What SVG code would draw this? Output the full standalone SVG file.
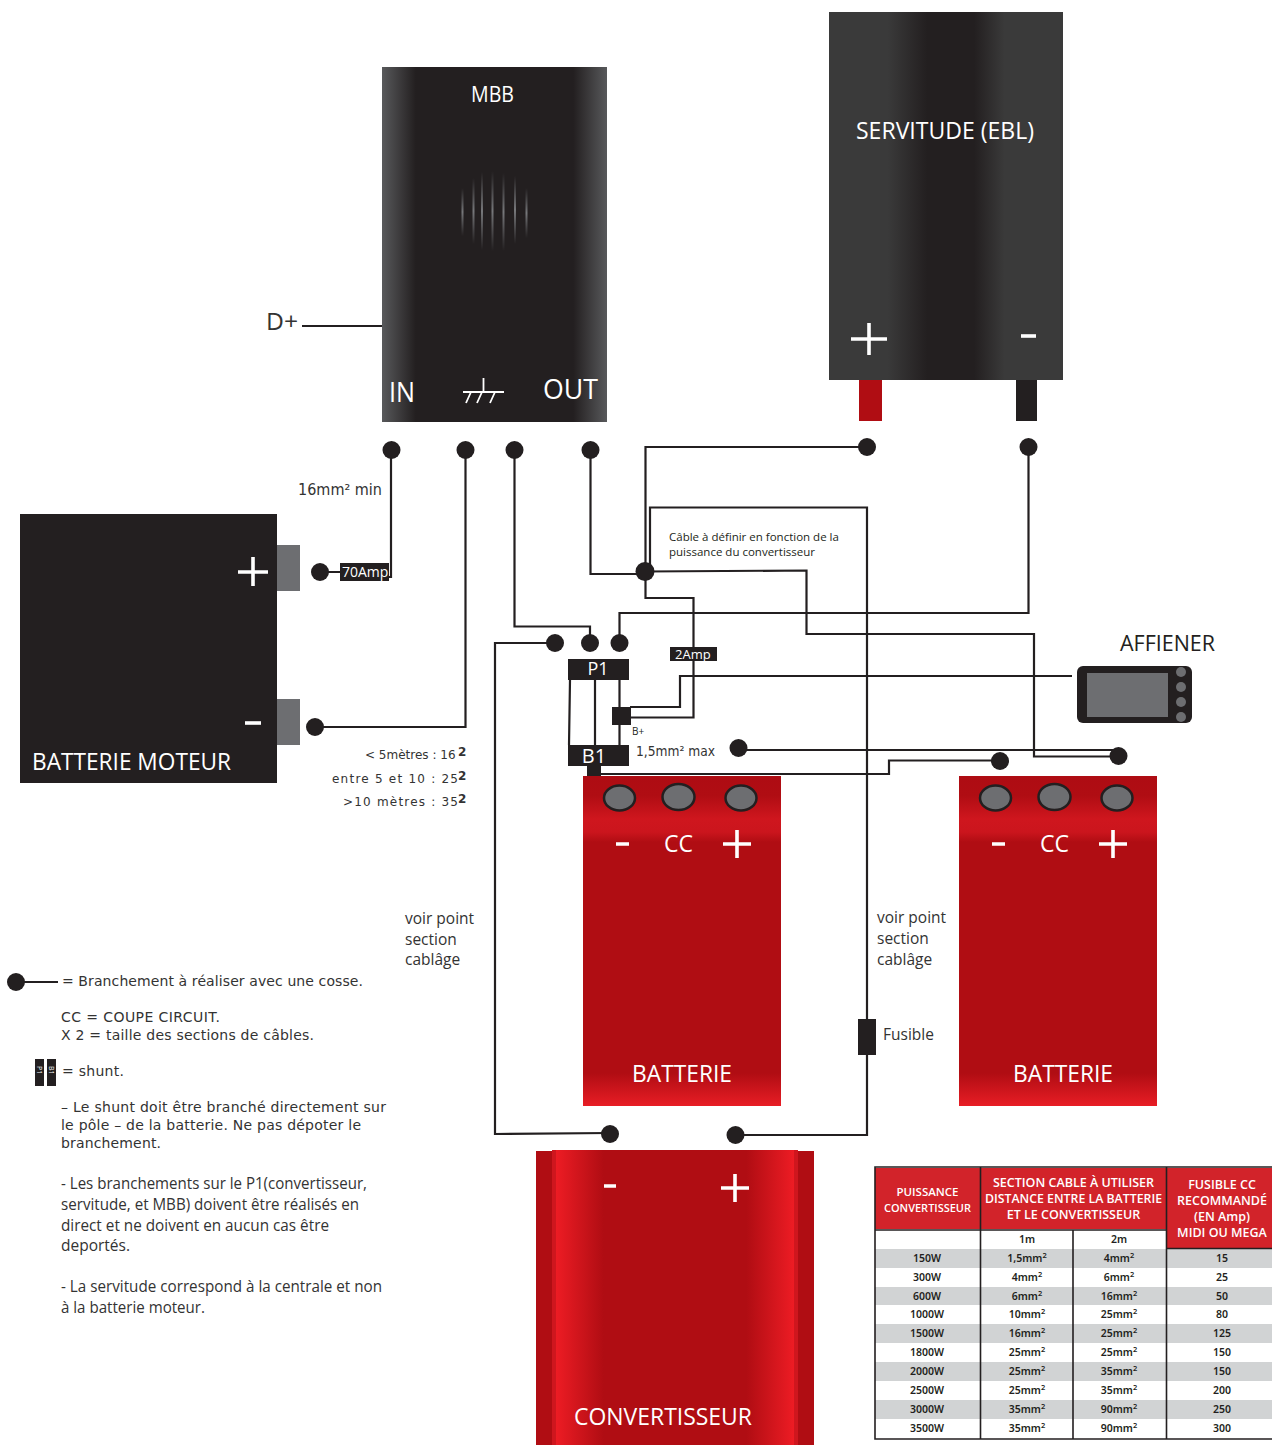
<svg xmlns="http://www.w3.org/2000/svg" width="1272" height="1445" viewBox="0 0 1272 1445">
<style>
text{font-family:"Open Sans","Noto Sans",sans-serif;fill:#231f20}
.b{font-size:24px;fill:#fff}
.d{font-family:"DejaVu Sans",sans-serif;font-size:14px;fill:#333}
.m{font-size:15.5px;fill:#333}
.wire{fill:none;stroke:#231f20;stroke-width:2.2;stroke-linejoin:miter}
.dot{fill:#231f20}
.sym{stroke:#fff;stroke-width:3.6;fill:none}
.post{fill:#6d6e71;stroke:#231f20;stroke-width:2.5}
.tbh{font-size:11.5px;font-weight:600;fill:#fff;text-anchor:middle}
.tb{font-size:10.5px;font-weight:600;fill:#231f20;text-anchor:middle;font-family:"Noto Sans",sans-serif}
.sup{font-size:7.5px}
.gl{stroke:#231f20;stroke-width:1.6;fill:none}
.blk{fill:#231f20}
</style>
<defs>
<linearGradient id="mbb" x1="0" y1="0" x2="1" y2="0"><stop offset="0" stop-color="#58595b"/><stop offset=".15" stop-color="#231f20"/><stop offset=".85" stop-color="#231f20"/><stop offset="1" stop-color="#58595b"/></linearGradient>
<linearGradient id="ebl" x1="0" y1="0" x2="1" y2="0"><stop offset="0" stop-color="#3a3a3a"/><stop offset=".25" stop-color="#3a3a3a"/><stop offset=".42" stop-color="#231f20"/><stop offset=".62" stop-color="#231f20"/><stop offset=".75" stop-color="#3a3a3a"/><stop offset="1" stop-color="#3a3a3a"/></linearGradient>
<linearGradient id="bat" x1="0" y1="0" x2="0" y2="1"><stop offset="0" stop-color="#ae0c13"/><stop offset=".06" stop-color="#b00d13"/><stop offset=".13" stop-color="#cf161e"/><stop offset=".17" stop-color="#cb151d"/><stop offset=".2" stop-color="#b00d13"/><stop offset=".9" stop-color="#b00d13"/><stop offset="1" stop-color="#e81d25"/></linearGradient>
<linearGradient id="conv" x1="0" y1="0" x2="1" y2="0"><stop offset="0" stop-color="#ed1c24"/><stop offset=".2" stop-color="#b00d13"/><stop offset=".8" stop-color="#b00d13"/><stop offset="1" stop-color="#ed1c24"/></linearGradient>
<linearGradient id="gr" x1="0" y1="0" x2="0" y2="1"><stop offset="0" stop-color="#6d6e71" stop-opacity="0"/><stop offset=".5" stop-color="#77787b"/><stop offset="1" stop-color="#6d6e71" stop-opacity="0"/></linearGradient>
</defs>

<g id="mbb-node">
<rect x="382" y="67" width="225" height="355" fill="url(#mbb)"/>
<g fill="url(#gr)">
<rect x="461.500" y="188" width="2" height="48"/><rect x="472.500" y="178" width="2" height="66"/><rect x="481" y="172" width="2" height="78"/><rect x="491.500" y="171" width="2" height="80"/><rect x="502.500" y="173" width="2" height="78"/><rect x="514" y="176" width="2" height="68"/><rect x="525.500" y="188" width="2" height="50"/>
</g>
<text x="471" y="102" style="fill:#fff" font-size="22" textLength="43" lengthAdjust="spacingAndGlyphs">MBB</text>
<text x="389" y="402" style="fill:#fff" font-size="28" textLength="26" lengthAdjust="spacingAndGlyphs">IN</text>
<text x="543" y="399" style="fill:#fff" font-size="28" textLength="55" lengthAdjust="spacingAndGlyphs">OUT</text>
<path d="M463 392H504M483.500 378V392M466 403L471 392M477 403L482 392M490 403L495 392" stroke="#fff" stroke-width="1.800" fill="none"/>
</g>

<g id="ebl-node">
<rect x="829" y="12" width="234" height="368" fill="url(#ebl)"/>
<rect x="859" y="380" width="23" height="41" fill="#b00d13"/>
<rect x="1016" y="380" width="21" height="41" fill="#231f20"/>
<text x="856" y="139" style="fill:#fff" font-size="24" textLength="178" lengthAdjust="spacingAndGlyphs">SERVITUDE (EBL)</text>
<path class="sym" d="M851 339H887M869 323V355"/>
<path class="sym" d="M1021 336H1036"/>
</g>

<g id="batterie-moteur">
<rect x="20" y="514" width="257" height="269" fill="#231f20"/>
<rect x="277" y="545" width="23" height="46" fill="#6d6e71"/>
<rect x="277" y="699" width="23" height="46" fill="#6d6e71"/>
<path class="sym" d="M238 572H268M253 557V586"/>
<path class="sym" d="M245 723H261"/>
<text x="32" y="770" style="fill:#fff" font-size="24" textLength="199" lengthAdjust="spacingAndGlyphs">BATTERIE MOTEUR</text>
</g>

<g id="batterie-1">
<rect x="583" y="776" width="198" height="330" fill="url(#bat)"/>
<ellipse class="post" cx="619.500" cy="798" rx="15.500" ry="12.500"/><ellipse class="post" cx="678.500" cy="797" rx="16" ry="13"/><ellipse class="post" cx="741" cy="798" rx="15.500" ry="12.500"/>
<path class="sym" d="M616 844H629M723 844H751M737 830V858"/>
<text x="664" y="852" style="fill:#fff" font-size="24" textLength="29" lengthAdjust="spacingAndGlyphs">CC</text>
<text x="632" y="1082" style="fill:#fff" font-size="24" textLength="100" lengthAdjust="spacingAndGlyphs">BATTERIE</text>
</g>
<g id="batterie-2">
<rect x="959" y="776" width="198" height="330" fill="url(#bat)"/>
<ellipse class="post" cx="995.500" cy="798" rx="15.500" ry="12.500"/><ellipse class="post" cx="1054.500" cy="797" rx="16" ry="13"/><ellipse class="post" cx="1117" cy="798" rx="15.500" ry="12.500"/>
<path class="sym" d="M992 844H1005M1099 844H1127M1113 830V858"/>
<text x="1040" y="852" style="fill:#fff" font-size="24" textLength="29" lengthAdjust="spacingAndGlyphs">CC</text>
<text x="1013" y="1082" style="fill:#fff" font-size="24" textLength="100" lengthAdjust="spacingAndGlyphs">BATTERIE</text>
</g>

<g id="convertisseur">
<rect x="536" y="1151" width="278" height="294" fill="#b00d13"/>
<rect x="552" y="1150" width="246" height="295" fill="#cf161e"/>
<rect x="556" y="1150" width="238" height="295" fill="url(#conv)"/>
<path class="sym" d="M604 1186H616M721 1188H749M735 1174V1202"/>
<text x="574" y="1425" style="fill:#fff" font-size="24" textLength="178" lengthAdjust="spacingAndGlyphs">CONVERTISSEUR</text>
</g>

<g id="afficheur">
<rect x="1077" y="666" width="115" height="57" rx="6" fill="#231f20"/>
<rect x="1087" y="673" width="81" height="44" fill="#6d6e71"/>
<circle cx="1181" cy="672" r="5" fill="#6d6e71"/><circle cx="1181" cy="687" r="5" fill="#6d6e71"/><circle cx="1181" cy="702" r="5" fill="#6d6e71"/><circle cx="1181" cy="717" r="5" fill="#6d6e71"/>
<text x="1120" y="651" font-size="21" textLength="95" lengthAdjust="spacingAndGlyphs">AFFIENER</text>
</g>

<g id="connectors">
<path class="wire" d="M302 326H382"/>
<path class="wire" d="M391 450V577H388M320 572H340"/>
<path class="wire" d="M465.500 450V727H315"/>
<path class="wire" d="M514.500 450V626.500H590V643"/>
<path class="wire" d="M590.500 450V574H645"/>
<path class="wire" d="M867 447H645.500V598H693.500V717.500H630"/>
<path class="wire" d="M650 571V507.500H867V1135H736"/>
<path class="wire" d="M645 571.500L806.500 570.500V634H1034V756.500H1118"/>
<path class="wire" d="M1028.500 447V613H619.500V643"/>
<path class="wire" d="M555 643H495V1134L610 1133"/>
<path class="wire" d="M738 750H1118"/>
<path class="wire" d="M600 774H889V760.500H1000"/>
<path class="wire" d="M570 680L569 745M595 680V745M619.500 680V745"/>
<path class="wire" d="M630 707H680V676H1072"/>
</g>

<g id="terminals">
<circle class="dot" cx="391.500" cy="450" r="9"/><circle class="dot" cx="465.500" cy="450" r="9"/><circle class="dot" cx="514.500" cy="450" r="9"/><circle class="dot" cx="590.500" cy="450" r="9"/>
<circle class="dot" cx="867" cy="447" r="9"/><circle class="dot" cx="1028.500" cy="447" r="9"/>
<circle class="dot" cx="320" cy="572" r="9"/><circle class="dot" cx="315" cy="727" r="9"/>
<circle class="dot" cx="645" cy="571.500" r="9.500"/>
<circle class="dot" cx="555" cy="643" r="9"/><circle class="dot" cx="590" cy="643" r="9"/><circle class="dot" cx="619.500" cy="643" r="9"/>
<circle class="dot" cx="738.500" cy="748" r="9"/><circle class="dot" cx="1000" cy="761" r="9"/><circle class="dot" cx="1118.500" cy="756" r="9"/>
<circle class="dot" cx="610" cy="1134" r="9"/><circle class="dot" cx="735.500" cy="1135" r="9"/>
</g>

<g id="shunt-p1"><rect x="568" y="659" width="61" height="21" class="blk"/><text x="598" y="675" style="fill:#fff" font-size="18" text-anchor="middle">P1</text></g>
<g id="shunt-b1"><rect x="568" y="745" width="61" height="21" class="blk"/><rect x="587" y="766" width="14" height="10" class="blk"/><text x="594" y="763" style="fill:#fff" font-size="20" text-anchor="middle">B1</text></g>
<g id="borne-bplus"><rect x="612" y="707" width="19" height="18" class="blk"/><text x="632" y="735" font-size="10">B+</text></g>
<g id="fuse-70"><rect x="340" y="563" width="49" height="18" class="blk"/><text x="342" y="577" style="fill:#fff" font-family="Liberation Sans" font-size="14">70Amp</text></g>
<g id="fuse-2"><rect x="670" y="647" width="47" height="14" class="blk"/><text x="675" y="659" style="fill:#fff" font-size="13">2Amp</text></g>
<g id="fusible"><rect x="858" y="1019" width="18" height="36" class="blk"/><text x="883" y="1040" class="m">Fusible</text></g>

<text x="266" y="330" font-size="24" style="fill:#333" textLength="32" lengthAdjust="spacingAndGlyphs">D+</text>
<text x="298" y="495" class="d" style="font-size:15px" textLength="84" lengthAdjust="spacingAndGlyphs">16mm² min</text>
<text x="669" y="541" font-size="11.500">Câble à définir en fonction de la</text>
<text x="669" y="556" font-size="11.500">puissance du convertisseur</text>
<text x="636" y="756" class="d" textLength="79" lengthAdjust="spacingAndGlyphs">1,5mm² max</text>
<text x="365" y="759" class="d" style="font-size:12px">&lt; 5mètres : 16</text><text x="458" y="756" class="d" style="font-size:12px;font-weight:700">2</text>
<text x="332" y="783" class="d" style="font-size:12px" textLength="126">entre 5 et 10 : 25</text><text x="458" y="780" class="d" style="font-size:12px;font-weight:700">2</text>
<text x="343" y="806" class="d" style="font-size:12px" textLength="115">&gt;10 mètres : 35</text><text x="458" y="803" class="d" style="font-size:12px;font-weight:700">2</text>
<text class="m" x="405" y="924">voir point</text><text class="m" x="405" y="945">section</text><text class="m" x="405" y="965">cablâge</text>
<text class="m" x="877" y="923">voir point</text><text class="m" x="877" y="944">section</text><text class="m" x="877" y="965">cablâge</text>

<g id="legend">
<circle class="dot" cx="16" cy="982" r="9"/><path class="wire" d="M16 982H58"/>
<text class="d" x="62" y="986" textLength="301">= Branchement à réaliser avec une cosse.</text>
<text class="d" x="61" y="1022" textLength="159">CC = COUPE CIRCUIT.</text>
<text class="d" x="61" y="1040" textLength="253">X 2 = taille des sections de câbles.</text>
<rect x="35" y="1059" width="9" height="27" class="blk"/><rect x="47" y="1059" width="9" height="27" class="blk"/>
<text transform="translate(37,1066) rotate(90)" style="fill:#fff" font-size="7">P1</text>
<text transform="translate(49,1066) rotate(90)" style="fill:#fff" font-size="7">B1</text>
<text class="d" x="62" y="1076" textLength="62">= shunt.</text>
<text class="d" x="61" y="1112" textLength="325">– Le shunt doit être branché directement sur</text>
<text class="d" x="61" y="1130" textLength="300">le pôle – de la batterie. Ne pas dépoter le</text>
<text class="d" x="61" y="1148" textLength="100">branchement.</text>
<text class="m" x="61" y="1189" textLength="306" lengthAdjust="spacingAndGlyphs">- Les branchements sur le P1(convertisseur,</text>
<text class="m" x="61" y="1210" textLength="298" lengthAdjust="spacingAndGlyphs">servitude, et MBB) doivent être réalisés en</text>
<text class="m" x="61" y="1231" textLength="268" lengthAdjust="spacingAndGlyphs">direct et ne doivent en aucun cas être</text>
<text class="m" x="61" y="1251" textLength="69" lengthAdjust="spacingAndGlyphs">deportés.</text>
<text class="m" x="61" y="1292" textLength="321" lengthAdjust="spacingAndGlyphs">- La servitude correspond à la centrale et non</text>
<text class="m" x="61" y="1313" textLength="144" lengthAdjust="spacingAndGlyphs">à la batterie moteur.</text>
</g>

<g id="table">
<rect x="875" y="1168" width="397" height="61" fill="#d2232a"/>
<rect x="1167" y="1229" width="105" height="19" fill="#d2232a"/>
<g fill="#d1d3d4">
<rect x="875" y="1249" width="397" height="19"/><rect x="875" y="1287" width="397" height="18"/><rect x="875" y="1324" width="397" height="19"/><rect x="875" y="1362" width="397" height="19"/><rect x="875" y="1400" width="397" height="19"/>
</g>
<path class="gl" d="M1272 1167H875V1439H1272M980.500 1167V1439M1166.500 1167V1439M1073 1230V1439M875 1230H1166.500M1166.500 1248.500H1272"/>
<text class="tbh" x="927.500" y="1196">PUISSANCE</text><text class="tbh" x="927.500" y="1212" textLength="87" lengthAdjust="spacingAndGlyphs">CONVERTISSEUR</text>
<text class="tbh" x="1073.500" y="1187" style="font-size:12.500px">SECTION CABLE À UTILISER</text><text class="tbh" x="1073.500" y="1203" style="font-size:12.500px" textLength="177" lengthAdjust="spacingAndGlyphs">DISTANCE ENTRE LA BATTERIE</text><text class="tbh" x="1073.500" y="1219" style="font-size:12.500px">ET LE CONVERTISSEUR</text>
<text class="tbh" x="1222" y="1189" style="font-size:12.500px">FUSIBLE CC</text><text class="tbh" x="1222" y="1205" style="font-size:12.500px">RECOMMANDÉ</text><text class="tbh" x="1222" y="1221" style="font-size:12.500px">(EN Amp)</text><text class="tbh" x="1222" y="1237" style="font-size:12.500px">MIDI OU MEGA</text>
<text class="tb" x="1027" y="1243">1m</text><text class="tb" x="1119" y="1243">2m</text>
<text class="tb" x="927" y="1262">150W</text><text class="tb" x="1027" y="1262">1,5mm<tspan class="sup" dy="-4">2</tspan></text><text class="tb" x="1119" y="1262">4mm<tspan class="sup" dy="-4">2</tspan></text><text class="tb" x="1222" y="1262">15</text>
<text class="tb" x="927" y="1281">300W</text><text class="tb" x="1027" y="1281">4mm<tspan class="sup" dy="-4">2</tspan></text><text class="tb" x="1119" y="1281">6mm<tspan class="sup" dy="-4">2</tspan></text><text class="tb" x="1222" y="1281">25</text>
<text class="tb" x="927" y="1300">600W</text><text class="tb" x="1027" y="1300">6mm<tspan class="sup" dy="-4">2</tspan></text><text class="tb" x="1119" y="1300">16mm<tspan class="sup" dy="-4">2</tspan></text><text class="tb" x="1222" y="1300">50</text>
<text class="tb" x="927" y="1318">1000W</text><text class="tb" x="1027" y="1318">10mm<tspan class="sup" dy="-4">2</tspan></text><text class="tb" x="1119" y="1318">25mm<tspan class="sup" dy="-4">2</tspan></text><text class="tb" x="1222" y="1318">80</text>
<text class="tb" x="927" y="1337">1500W</text><text class="tb" x="1027" y="1337">16mm<tspan class="sup" dy="-4">2</tspan></text><text class="tb" x="1119" y="1337">25mm<tspan class="sup" dy="-4">2</tspan></text><text class="tb" x="1222" y="1337">125</text>
<text class="tb" x="927" y="1356">1800W</text><text class="tb" x="1027" y="1356">25mm<tspan class="sup" dy="-4">2</tspan></text><text class="tb" x="1119" y="1356">25mm<tspan class="sup" dy="-4">2</tspan></text><text class="tb" x="1222" y="1356">150</text>
<text class="tb" x="927" y="1375">2000W</text><text class="tb" x="1027" y="1375">25mm<tspan class="sup" dy="-4">2</tspan></text><text class="tb" x="1119" y="1375">35mm<tspan class="sup" dy="-4">2</tspan></text><text class="tb" x="1222" y="1375">150</text>
<text class="tb" x="927" y="1394">2500W</text><text class="tb" x="1027" y="1394">25mm<tspan class="sup" dy="-4">2</tspan></text><text class="tb" x="1119" y="1394">35mm<tspan class="sup" dy="-4">2</tspan></text><text class="tb" x="1222" y="1394">200</text>
<text class="tb" x="927" y="1413">3000W</text><text class="tb" x="1027" y="1413">35mm<tspan class="sup" dy="-4">2</tspan></text><text class="tb" x="1119" y="1413">90mm<tspan class="sup" dy="-4">2</tspan></text><text class="tb" x="1222" y="1413">250</text>
<text class="tb" x="927" y="1432">3500W</text><text class="tb" x="1027" y="1432">35mm<tspan class="sup" dy="-4">2</tspan></text><text class="tb" x="1119" y="1432">90mm<tspan class="sup" dy="-4">2</tspan></text><text class="tb" x="1222" y="1432">300</text>
</g>
</svg>
